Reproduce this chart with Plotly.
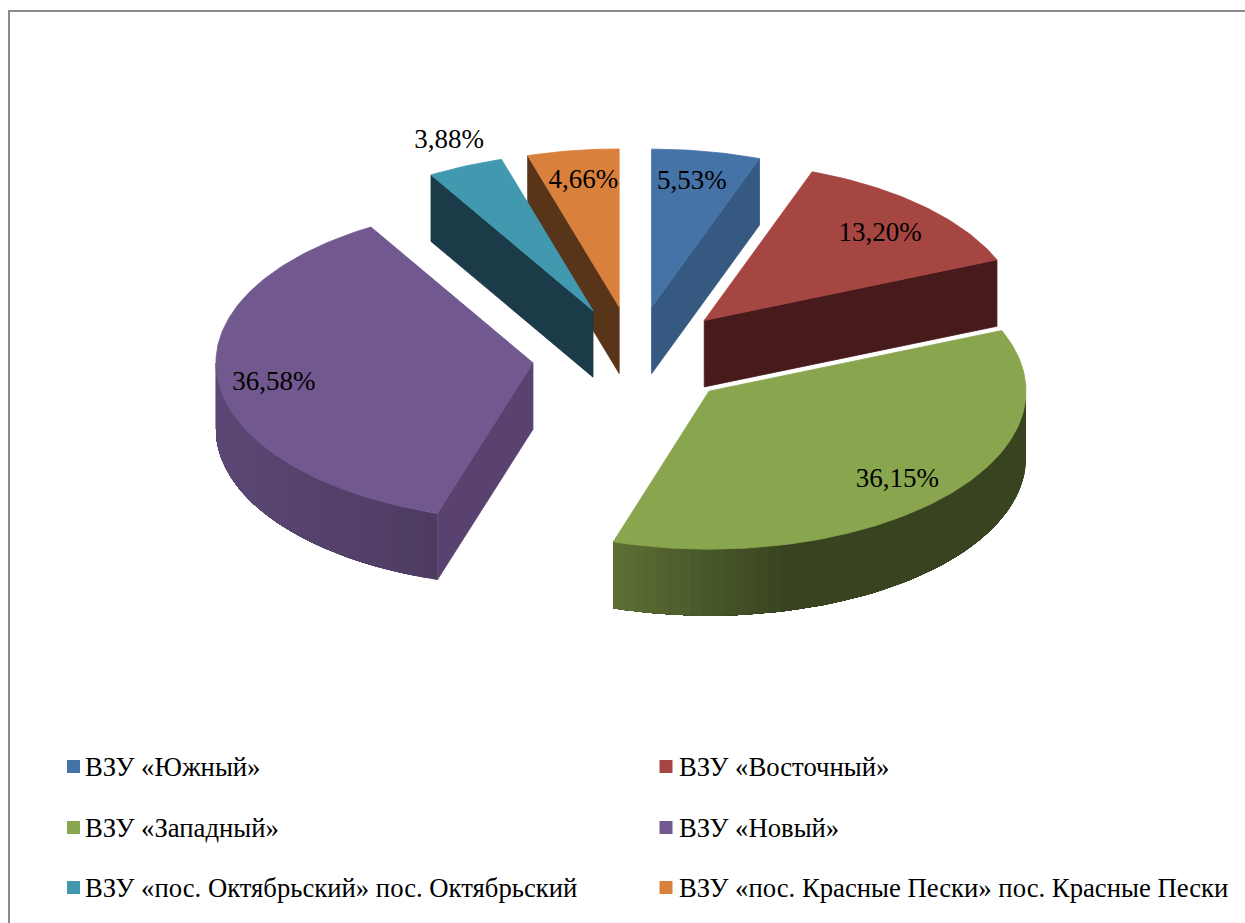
import math
import plotly.graph_objects as go

# ---- data ----
categories = ["ВЗУ «Южный»", "ВЗУ «Восточный»", "ВЗУ «Западный»", "ВЗУ «Новый»",
              "ВЗУ «пос. Октябрьский» пос. Октябрьский", "ВЗУ «пос. Красные Пески» пос. Красные Пески"]
values = [5.53, 13.20, 36.15, 36.58, 3.88, 4.66]

# ---- style ----
top_colors = ["#4572A7", "#A64643", "#89A54E", "#71588F", "#4198AF", "#D9813C"]
cut_colors = ["#355980", "#471A1B", "#37421E", "#5A4270", "#1A3B47", "#583418"]
label_radius = [0.81, 0.79, 0.81, 0.82, 1.165, 0.815]
label_nudge_x = [-4, 3, -1, -1, 5, 2]
label_nudge_y = [1, 4, 3, 6, -1, 2]
draw_order = [5, 0, 1, 4, 3, 2]

CX, CY, RX, RY, DEPTH, EXPLODE = 634, 357, 317, 158, 66.5, 101.7
FONT = "Liberation Serif"
LABEL_SIZE = 27
LEGEND_SIZE = 26.7


def hex2rgb(h):
    return [int(h[i:i + 2], 16) for i in (1, 3, 5)]


def wall_shade(s):
    pts = [(-1.0, 0.82), (-0.3, 0.68), (0.25, 0.41), (1.0, 0.41)]
    for (a, fa), (b, fb) in zip(pts, pts[1:]):
        if s <= b:
            return fa + (fb - fa) * (s - a) / (b - a)
    return 0.41


def poly(xs, ys, color, name, width=0.8):
    return go.Scatter(x=xs, y=ys, mode="lines", fill="toself", fillcolor=color,
                      line=dict(color=color, width=width), hoverinfo="skip",
                      showlegend=False, name=name)


fig = go.Figure()
total = sum(values)
bounds = [0.0]
for v in values:
    bounds.append(bounds[-1] + v / total * 2 * math.pi)

apexes = []
for i in range(len(values)):
    mid = (bounds[i] + bounds[i + 1]) / 2
    apexes.append((CX + EXPLODE * math.sin(mid), CY - EXPLODE * 0.4976 * math.cos(mid)))


def rim(i, t):
    ax, ay = apexes[i]
    return ax + RX * math.sin(t), ay - RY * math.cos(t)


for i in draw_order:
    a, b = bounds[i], bounds[i + 1]
    ax, ay = apexes[i]
    name = categories[i]
    # straight cut faces
    for t, visible in ((a, math.sin(a) < 0), (b, math.sin(b) > 0)):
        if visible:
            rx_, ry_ = rim(i, t)
            fig.add_trace(poly([ax, rx_, rx_, ax, ax],
                               [ay, ry_, ry_ + DEPTH, ay + DEPTH, ay],
                               cut_colors[i], name))
    # curved outer wall: each shaded band runs on to the wall's far end and the
    # next band is painted over it, so no seams appear between the bands
    lo, hi = max(a, math.pi / 2), min(b, 3 * math.pi / 2)
    if hi > lo:
        n = max(1, int(math.degrees(hi - lo) / 2))
        base = hex2rgb(top_colors[i])
        steps = [lo + (hi - lo) * k / n for k in range(n + 1)]
        for k in range(n):
            arc = steps[k:]
            pts = [rim(i, t) for t in arc]
            mid_t = (steps[k] + steps[k + 1]) / 2
            f = wall_shade(math.sin(mid_t))
            col = "rgb(%d,%d,%d)" % tuple(int(c * f) for c in base)
            xs = [p[0] for p in pts] + [p[0] for p in reversed(pts)] + [pts[0][0]]
            ys = [p[1] for p in pts] + [p[1] + DEPTH for p in reversed(pts)] + [pts[0][1]]
            fig.add_trace(poly(xs, ys, col, name, width=0))
    # top face
    n = max(4, int(math.degrees(b - a)))
    pts = [rim(i, a + (b - a) * k / n) for k in range(n + 1)]
    fig.add_trace(poly([ax] + [p[0] for p in pts] + [ax],
                       [ay] + [p[1] for p in pts] + [ay], top_colors[i], name))

# data labels
for i, v in enumerate(values):
    mid = (bounds[i] + bounds[i + 1]) / 2
    r = label_radius[i]
    fig.add_trace(go.Scatter(
        x=[apexes[i][0] + r * RX * math.sin(mid) + label_nudge_x[i]],
        y=[apexes[i][1] - r * RY * math.cos(mid) + label_nudge_y[i]],
        mode="text", text=[f"{v:.2f}%".replace(".", ",")],
        textposition="middle center",
        textfont=dict(family=FONT, size=LABEL_SIZE, color="#000000"),
        hoverinfo="skip", showlegend=False))

# legend, two columns by three rows
legend_x = [73.5, 666]
legend_text_x = [85, 679]
legend_y = [766.5, 827.5, 887.5]
for i, name in enumerate(categories):
    fig.add_trace(go.Scatter(
        x=[legend_x[i % 2]], y=[legend_y[i // 2]], mode="markers",
        marker=dict(symbol="square", size=13, color=top_colors[i], line=dict(width=0)),
        hoverinfo="skip", showlegend=False))
    fig.add_trace(go.Scatter(
        x=[legend_text_x[i % 2]], y=[legend_y[i // 2] + 2.5], mode="text",
        text=[name], textposition="middle right",
        textfont=dict(family=FONT, size=LEGEND_SIZE, color="#000000"),
        hoverinfo="skip", showlegend=False))

axis = dict(visible=False, showgrid=False, zeroline=False, fixedrange=True)
fig.update_layout(
    width=1245, height=923, margin=dict(l=0, r=0, t=0, b=0),
    paper_bgcolor="#FFFFFF", plot_bgcolor="#FFFFFF", showlegend=False,
    xaxis=dict(range=[0, 1245], **axis),
    yaxis=dict(range=[923, 0], **axis),
    shapes=[
        dict(type="line", xref="x", yref="y", x0=9, x1=9, y0=10, y1=923,
             line=dict(color="#8A8A8A", width=2)),
        dict(type="line", xref="x", yref="y", x0=8, x1=1245, y0=11, y1=11,
             line=dict(color="#8A8A8A", width=2)),
    ],
)
fig.write_html("out.html", config={"displayModeBar": False},
               post_script="document.body.style.margin='0';document.body.style.overflow='hidden';")
